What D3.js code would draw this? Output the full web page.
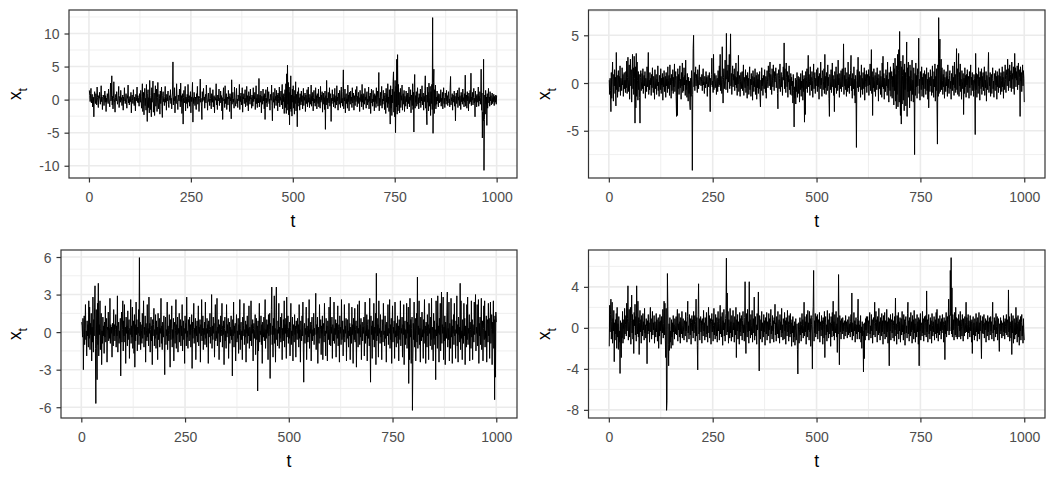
<!DOCTYPE html>
<html><head><meta charset="utf-8">
<script src="https://cdn.jsdelivr.net/npm/d3@7/dist/d3.min.js"></script>
<style>html,body{margin:0;padding:0;background:#fff;}svg{display:block;}</style>
</head><body>
<svg id="chart" width="1056" height="480"></svg>
<script>
const xTicks = [0, 250, 500, 750, 1000];
const yTicks1 = [-10, -5, 0, 5, 10];
const yTicks2 = [-5, 0, 5];
const yTicks3 = [-6, -3, 0, 3, 6];
const yTicks4 = [-8, -4, 0, 4];
const xTitle = "t";
const yTitleMain = "x";
const yTitleSub = "t";

const series1 = [
1.4,0.6,-0.3,0.9,1.7,-0.5,0.2,0.8,-1.1,0.4,0.3,-2.6,0.5,1.2,-0.2,-0.6,0.9,0.1,-0.8,1.9,
0.3,-0.4,-1.2,0.6,0.2,1.1,-0.1,-0.7,0.5,2.1,-0.3,0.4,-1.5,-0.2,0.7,0.3,-0.9,0.1,1.3,-0.4,
0.6,-1.8,0.2,-0.3,0.9,0.4,-0.6,1.6,0.1,-0.4,-1.1,0.7,2.5,-0.2,0.3,3.6,-0.8,0.5,-1.4,0.2,
2.7,0.4,-0.5,-1.9,0.3,0.8,-0.2,1.2,0.1,-0.7,-0.3,0.6,2.0,-1.2,0.2,0.5,-0.4,1.4,-0.1,0.3,
-0.9,0.2,0.7,-1.6,0.4,-0.2,1.8,0.3,-0.6,0.1,0.9,-0.4,-1.3,0.6,0.2,2.2,-0.5,0.1,-0.8,0.4,
0.5,-0.3,1.1,-2.0,0.2,0.7,-0.1,-0.6,1.5,0.3,-0.9,0.4,0.1,-1.7,0.8,-0.2,0.3,1.9,-0.4,0.6,
-0.5,0.2,-1.0,0.9,0.3,-0.4,1.4,-0.2,-1.3,0.5,2.4,-1.8,-0.6,1.1,-2.3,0.4,1.7,-0.9,0.2,-1.6,
2.3,-0.7,-3.3,0.9,1.5,-1.2,0.3,-2.0,2.9,0.6,-1.5,0.2,-2.6,1.8,-0.4,0.7,2.8,-1.9,-0.3,1.0,
-2.4,0.5,2.1,-1.0,-0.2,1.6,-1.8,0.3,2.6,-0.5,-1.4,0.8,0.2,-2.2,1.3,-0.6,0.4,1.9,-1.1,-2.7,
0.6,1.2,-0.3,0.1,-0.9,0.5,2.0,-0.4,0.2,-1.6,0.8,-0.2,0.4,1.3,-0.7,-1.2,0.3,0.6,-0.1,1.5,
-0.6,0.2,-1.4,0.4,1.0,5.7,-0.8,0.3,-0.2,1.8,-2.0,0.5,0.1,-0.6,2.4,0.2,-0.4,-1.5,0.7,0.3,
-0.2,1.6,0.4,-1.1,2.5,-0.3,0.6,-2.1,0.2,0.9,-3.7,0.3,1.4,-0.5,-0.1,2.0,-1.7,0.4,0.1,-0.6,
0.8,-1.3,2.3,0.2,-0.4,0.6,-1.0,0.1,1.2,-2.0,0.4,-0.3,0.7,2.6,-3.4,0.3,-0.6,1.1,0.2,-0.9,
0.4,-0.2,-1.5,0.9,0.3,2.0,-0.7,0.1,0.5,-1.8,0.2,0.6,3.1,-0.4,0.2,-1.1,-3.0,1.2,-0.3,0.5,
1.7,-0.1,0.4,-1.3,0.2,0.8,-0.5,2.2,0.3,-0.2,-1.6,0.5,1.0,-0.3,0.1,-0.9,1.8,0.2,-0.6,-1.4,
0.9,0.3,-0.4,1.5,-1.1,0.2,0.6,-2.0,0.4,-0.1,0.3,2.4,-0.8,0.1,-1.5,0.7,-0.2,0.4,1.6,-0.9,
0.2,-0.5,1.3,0.1,0.6,-1.7,0.3,-3.0,0.5,1.8,-0.2,0.1,-1.2,2.1,-0.6,0.3,0.9,-1.5,0.2,0.4,
-0.8,1.4,0.1,0.5,-1.8,0.9,-0.2,0.3,-2.9,3.0,-0.7,0.2,1.1,-0.4,0.1,-1.3,1.9,0.3,-0.5,-1.0,
0.4,1.7,-0.6,0.1,-1.2,0.7,0.3,-0.2,2.3,-1.5,0.5,-0.3,1.0,-0.8,0.2,1.8,-1.9,0.4,0.1,0.9,
-0.6,0.3,1.5,-1.1,0.2,-0.4,2.0,-0.9,0.6,0.1,-1.7,1.2,-0.2,0.5,-0.7,1.6,0.1,0.3,-1.3,0.7,
0.2,-1.0,1.8,-0.3,0.5,0.1,1.1,-1.5,0.4,2.1,-0.6,0.2,-1.2,0.8,0.0,-0.5,3.2,-1.1,0.3,0.7,
-0.4,1.3,-2.0,0.5,0.1,-0.7,1.6,-0.2,0.6,-1.4,0.9,-3.0,0.3,1.5,-0.5,0.2,-1.1,1.9,-0.3,0.4,
1.2,-0.6,0.1,-1.6,0.8,0.3,-0.1,2.2,-0.9,-3.2,0.6,1.1,-0.4,0.1,-1.3,1.7,-0.1,0.5,-0.9,1.4,
-0.2,0.7,-1.7,1.0,0.2,-0.5,1.9,-1.1,0.4,-0.1,1.3,-0.8,0.3,2.3,-1.4,0.6,-0.3,0.9,-2.1,0.5,
1.5,-1.2,2.4,-2.1,3.9,-1.6,5.2,-0.7,2.6,-2.3,1.1,-3.8,1.9,-1.4,3.6,-1.8,0.7,-2.5,1.6,-0.4,
2.1,-1.3,0.5,-2.2,1.4,-0.6,2.7,-1.7,0.8,-0.1,-4.1,1.2,-0.5,1.8,-1.0,0.3,-1.6,0.9,0.1,-0.8,
1.3,-0.3,0.6,-1.4,0.2,1.7,-0.9,0.4,-0.1,1.0,-1.8,0.7,0.1,-0.6,1.5,-1.1,0.3,1.9,-0.4,0.3,
-1.2,0.8,0.1,-0.7,2.2,-1.0,0.5,-0.2,1.1,-1.7,0.3,1.4,-0.5,0.1,-1.0,1.8,-0.3,0.6,-1.4,0.9,
0.2,-0.6,1.6,-1.1,0.4,0.1,-1.3,2.0,-0.4,0.7,-0.1,1.2,-1.9,0.5,1.0,-0.7,0.3,-1.5,1.3,-4.5,
0.6,-0.8,2.9,-0.3,0.2,-1.4,1.1,0.1,-0.5,1.8,-1.0,0.4,0.9,-3.3,0.2,-0.6,1.5,-0.2,0.3,-1.1,
0.8,-0.4,1.7,-1.3,0.1,0.6,-0.8,2.1,-0.2,0.4,-1.6,1.0,0.3,-0.7,1.4,-0.1,-1.2,0.7,1.9,-0.5,
0.2,-1.0,1.2,4.5,-1.4,0.3,-0.2,1.6,-2.0,0.5,0.9,-0.6,0.1,-1.3,2.2,-0.3,0.7,-1.7,1.1,0.1,
-0.7,1.3,-0.2,0.4,-1.2,1.8,-0.5,0.2,1.0,-1.6,0.6,-0.1,-0.9,1.5,-0.3,0.3,2.0,-1.1,0.5,-0.4,
1.1,-0.6,0.3,-1.8,1.4,0.1,-0.3,0.8,-1.1,2.3,-0.4,0.6,-1.5,0.9,0.2,-0.7,1.7,-0.1,0.4,-1.3,
0.7,1.2,-0.8,0.1,-0.4,1.9,-1.4,0.5,-0.2,1.0,-2.1,0.3,1.6,-0.5,0.1,-1.0,1.4,-0.3,0.7,-1.7,
0.9,-0.3,0.6,-1.2,1.8,-0.6,0.3,1.3,-1.0,0.4,4.1,-1.7,0.2,-0.4,1.1,-0.9,0.5,2.0,-1.3,0.1,
-0.7,1.4,-0.2,0.6,-1.5,1.0,0.3,-2.1,1.7,-0.4,0.8,-1.2,2.4,-0.6,0.4,-1.8,1.5,-0.9,-3.7,2.1,
-1.3,0.7,-2.4,1.6,-0.5,2.7,4.2,-1.9,1.2,-2.6,2.9,-5.0,2.0,-1.1,6.1,-2.2,6.8,-1.7,2.3,-0.8,
1.1,-2.0,0.4,1.7,-1.2,0.6,-0.1,2.2,-1.6,0.3,0.9,-0.7,1.4,-1.8,0.5,0.1,-1.0,1.3,-0.3,0.7,
-1.4,1.0,0.2,-0.6,1.9,-1.1,0.4,-0.1,1.5,-2.0,0.7,0.3,-0.9,2.4,-1.5,1.1,-4.9,1.8,3.8,-1.3,
0.6,-0.4,1.2,-1.0,0.2,1.8,-0.7,0.3,-1.4,0.9,0.1,-0.5,1.6,-1.2,0.4,-0.2,2.1,-0.8,0.3,1.0,
-1.6,0.5,-0.3,1.4,3.6,-1.3,0.7,-2.2,-3.8,1.9,-0.4,1.1,-1.7,2.5,-1.0,0.3,2.0,-2.4,1.2,-0.6,
2.3,-1.5,12.4,-5.1,2.6,4.6,-2.1,1.5,-0.9,2.2,-1.4,0.4,-0.7,1.3,-0.2,0.6,-1.1,0.9,0.1,-0.5,
0.8,-0.3,1.5,-1.0,0.2,-0.1,1.1,-1.4,0.5,1.8,-0.6,0.2,-1.2,1.0,0.3,-0.7,1.4,-0.2,0.6,-0.9,
0.4,1.2,-0.5,0.1,-1.1,1.9,3.5,-0.8,0.3,-0.2,0.9,-1.6,0.7,0.2,-0.4,1.3,-1.0,0.5,-3.2,0.2,
1.0,-0.6,0.2,1.4,-1.2,0.4,-0.1,1.8,-0.9,0.6,0.1,-1.5,1.1,-0.3,0.7,-0.7,1.6,-0.2,0.3,-1.1,
0.9,-0.4,3.7,-1.0,0.3,0.7,-1.3,1.2,-0.2,0.5,-1.7,1.0,0.1,-0.6,1.4,-0.3,4.0,-0.9,0.4,-0.1,
1.1,-0.8,0.3,1.7,-0.5,0.2,-2.6,1.3,-0.3,0.6,-1.1,0.8,0.1,-0.4,1.9,-1.0,0.5,-0.2,1.2,-0.7,
0.3,4.6,-1.6,1.0,-5.8,-1.9,-3.2,6.1,-10.7,-3.0,0.7,-2.2,1.4,-0.6,0.4,-3.9,0.9,-1.3,0.2,1.7,
-0.5,0.4,-1.0,1.2,-0.2,0.6,-0.8,0.1,1.0,-0.6,0.3,-0.3,0.8,-0.9,0.5,0.1,-0.4,0.7,-0.7,0.6
];

const series2 = [
0.3,-1.2,0.5,-0.8,-3.0,1.1,-1.6,0.4,2.2,-0.5,-1.9,0.9,-0.3,1.4,-1.1,0.6,-2.4,3.2,-0.7,0.8,
-1.5,0.2,1.3,-0.9,0.7,-0.4,1.8,-1.3,0.5,0.1,-0.8,1.6,-0.2,0.9,-1.4,0.4,1.1,-0.6,0.3,-1.0,
1.2,-0.5,2.3,-1.1,0.6,2.7,-0.9,0.4,1.9,-1.7,0.8,2.5,-0.3,1.4,-2.0,0.7,3.0,-0.6,1.6,-1.2,
2.8,0.5,-4.2,1.7,-2.6,3.1,-1.4,2.2,0.3,-1.8,1.2,-0.7,0.9,-1.5,-4.2,0.6,1.3,-0.8,0.2,1.0,
-0.6,1.5,-1.1,0.4,0.8,-0.3,1.2,-1.6,0.5,0.1,-0.9,1.7,-0.4,0.6,3.2,-1.2,0.3,-0.7,1.1,-0.2,
0.5,-1.3,0.9,-0.5,1.6,-0.1,-1.0,0.7,0.2,-1.7,1.4,-0.6,0.3,0.9,-1.2,0.4,-0.3,1.8,-0.8,0.1,
-1.4,0.8,0.3,-0.7,1.5,-1.1,0.5,-0.2,1.0,-1.8,0.6,-0.4,1.3,-0.9,0.2,0.7,-1.5,1.1,-0.3,0.4,
-1.0,1.7,-0.6,0.3,0.8,-1.3,1.9,-0.2,0.5,-1.6,0.9,-0.8,0.2,1.4,-1.1,0.6,-0.4,2.0,-0.9,0.3,
1.2,-1.4,-3.5,0.7,-3.4,1.5,-0.6,0.9,-1.2,0.2,1.8,-0.5,0.4,-1.7,1.1,-0.3,2.1,-1.0,0.6,-0.8,
1.6,-0.2,0.8,-1.3,2.4,-0.7,0.3,-1.5,1.0,-0.4,-1.9,0.6,-1.1,0.2,-2.2,-2.8,0.5,-1.4,1.3,-0.6,
-9.15,-1.2,3.6,5.0,-0.4,1.1,-0.8,0.5,1.7,-0.3,0.9,0.2,-1.0,1.4,0.4,-0.6,0.8,1.9,-0.2,0.6,
0.6,-0.3,0.2,0.9,-0.8,0.4,1.5,-0.2,0.1,-1.1,0.7,0.3,-0.5,1.2,-0.1,0.6,-1.4,0.2,0.8,-0.4,
0.3,1.1,-0.6,-3.0,0.5,-0.2,0.9,2.6,-0.4,0.2,-1.0,3.0,-0.7,0.4,1.0,-0.5,-0.1,0.8,-1.2,0.3,
0.5,-0.9,1.3,0.2,-0.4,1.8,-0.2,3.0,-0.8,0.7,0.1,-1.1,3.8,0.4,-2.1,0.6,1.5,-0.6,0.3,2.4,
0.2,-0.7,5.2,0.4,1.3,-1.0,1.9,0.1,0.8,3.0,-0.6,1.6,5.15,-0.3,1.0,-1.2,0.6,1.8,-0.4,0.9,
0.3,1.5,-0.8,0.7,-0.2,2.1,-0.5,0.6,-1.3,1.2,-0.1,2.9,-0.9,0.4,0.8,-1.4,0.2,1.1,-0.6,0.3,
1.2,-0.8,0.3,1.9,-1.3,0.6,0.1,-0.5,1.4,-1.0,0.8,0.2,-1.6,1.1,-0.3,0.5,-1.2,0.9,1.7,-0.7,
0.4,-1.4,1.0,-0.2,0.7,-1.8,1.3,0.3,-0.9,0.6,-0.4,1.5,-1.2,0.2,0.8,-1.7,1.1,-0.5,0.4,-1.1,
0.9,-0.6,1.2,-1.5,-2.5,0.3,-0.8,1.6,-0.3,0.5,-1.3,0.8,0.1,-0.6,1.4,-0.2,-1.0,0.7,-1.6,0.4,
1.3,0.2,-0.5,1.8,0.6,-0.3,1.1,2.2,-0.7,0.9,0.4,-1.2,1.5,0.3,-0.4,1.9,0.5,-0.8,1.2,0.1,
0.7,1.6,-0.5,0.3,1.0,-1.1,-2.7,0.8,1.4,-0.6,0.5,2.0,-0.9,0.2,1.1,-0.4,0.6,-1.3,0.9,1.7,
0.3,4.2,-0.6,1.5,0.2,-1.0,2.1,0.6,-0.4,1.2,-1.5,0.8,0.1,1.8,-0.7,0.4,-1.2,1.0,-0.3,0.6,
-1.3,0.2,-2.1,0.9,-0.8,-4.6,-0.4,-1.6,0.5,-2.2,0.3,-0.9,1.1,-1.5,-0.2,0.7,-1.1,0.4,-2.0,0.6,
-0.7,1.0,-1.4,0.2,-0.5,1.3,-1.8,0.4,-0.9,0.8,-4.1,0.5,-3.3,1.2,-0.6,0.3,1.5,-1.0,0.7,2.9,
-0.4,0.9,0.2,-1.3,1.7,-0.2,0.6,-0.8,1.2,0.3,-1.5,0.8,2.0,-0.6,0.4,1.1,-1.1,0.5,-0.3,1.4,
0.1,-0.9,1.6,-0.4,0.7,-1.7,1.0,0.3,-0.6,2.2,-0.2,0.5,-1.4,1.3,0.8,-0.7,0.2,1.5,-1.1,3.0,
-0.5,0.7,-1.2,1.1,0.3,-0.8,1.9,-0.3,0.6,-1.6,-3.5,0.9,0.2,-0.7,1.4,-1.0,0.5,2.1,-0.4,0.8,
-1.3,0.4,-3.0,1.2,0.6,-0.5,1.7,-1.1,0.3,0.9,-0.8,2.4,-0.2,0.5,-1.5,1.0,0.2,-0.6,1.3,-0.9,
0.7,1.5,-0.4,0.2,4.1,-1.2,0.8,-0.3,1.6,-0.7,0.4,-1.4,1.1,0.3,-0.9,2.2,-0.5,0.6,-1.1,0.9,
-0.3,1.3,2.9,-0.8,0.5,-1.6,1.0,0.2,-0.6,1.7,-1.3,0.4,-2.1,0.8,-1.0,-6.75,0.3,1.4,-0.5,2.7,
-0.9,0.6,1.2,-0.4,0.8,-1.5,0.3,1.9,-0.7,0.5,-1.2,1.1,0.0,-0.6,1.6,-1.8,0.9,0.2,-0.4,1.3,
-1.0,0.5,0.9,-0.3,1.4,-1.3,0.7,-0.2,2.0,-0.8,0.4,3.5,-1.1,1.2,-3.4,0.6,-0.5,1.5,-0.9,0.3,
0.8,-1.4,1.1,0.4,-0.7,1.6,-0.2,0.5,-1.9,0.9,0.3,-0.6,1.3,-1.2,0.7,0.1,-1.5,2.1,-0.4,2.8,
-0.6,1.0,-1.7,0.5,0.2,-0.9,1.4,-0.3,0.8,-1.3,2.2,-0.5,0.4,-2.0,1.1,0.6,-0.8,1.7,-1.4,0.3,
1.2,-1.6,0.7,-0.4,2.1,-2.3,1.5,-0.8,2.6,-1.9,0.9,-2.7,1.8,-1.2,3.0,-2.5,1.3,3.5,-2.0,5.4,
-1.6,-3.4,2.3,-4.3,1.7,-2.2,0.8,2.9,-1.8,1.4,-2.9,2.0,-0.7,1.1,-2.4,0.6,4.3,-3.5,1.6,-0.9,
2.2,-1.5,0.7,-2.6,1.9,-0.8,1.3,-1.9,0.5,2.4,-1.2,0.3,-2.0,1.6,-0.6,-7.5,1.0,-1.3,2.1,-0.4,
0.8,-1.6,1.5,-0.3,0.9,4.7,-1.1,0.4,-1.8,1.2,0.2,-0.7,1.7,-1.4,0.6,-0.2,1.0,-1.5,0.5,1.3,
-0.6,0.9,-1.2,0.3,1.6,-0.8,0.4,-1.7,1.1,-2.6,0.6,0.1,-0.9,1.4,-0.3,0.7,-1.3,0.5,1.8,-1.0,
0.4,-1.5,1.2,-0.4,2.0,-1.9,0.7,-0.8,1.5,-2.2,-6.4,1.9,-1.4,6.85,-1.1,2.6,4.6,-0.9,1.3,2.5,
-0.7,1.6,0.3,-1.2,0.9,-0.4,1.4,-1.6,0.6,0.2,-0.9,1.2,-0.3,0.7,-1.4,1.9,-0.5,0.4,-1.1,0.8,
1.3,-0.6,0.2,-1.7,1.0,0.5,-0.8,1.8,-0.2,0.6,-1.3,2.2,-0.5,0.9,-1.0,0.3,3.6,-0.7,1.5,-1.2,
0.6,3.1,-1.4,1.1,-0.3,2.0,-0.9,0.4,-1.7,1.3,0.2,-0.6,1.0,-3.3,0.5,-1.1,1.6,-0.4,0.8,-1.5,
0.9,-0.2,1.4,-1.0,0.3,0.7,-1.6,1.2,-0.5,0.4,1.9,-1.3,0.6,-0.2,1.1,-0.8,0.3,-1.4,0.9,0.5,
-0.9,-5.4,3.1,-0.7,1.0,-1.5,0.4,0.9,-1.1,1.6,-0.3,0.6,-1.8,1.2,0.2,-0.6,1.5,-1.2,0.7,-0.4,
1.1,-0.8,0.5,1.7,-1.3,0.3,-0.5,1.2,-1.9,0.8,0.2,-0.7,1.4,3.2,-1.0,0.6,-0.3,1.1,-1.4,0.4,
0.9,-1.1,0.5,1.6,-0.6,0.2,-1.5,1.0,0.4,-0.8,1.3,-0.2,0.7,-1.7,1.2,-0.4,0.8,-1.0,0.3,1.5,
-0.5,0.7,-1.2,1.1,0.3,-0.9,1.7,-0.4,0.6,-1.6,1.2,0.2,-0.7,1.9,0.4,-1.0,0.8,1.4,-0.3,2.5,
0.6,-0.8,1.5,0.2,1.9,-0.5,0.9,1.3,-0.9,2.2,0.4,1.0,-0.6,1.7,0.3,-1.2,3.1,0.5,1.6,-0.4,
1.2,0.3,1.8,-0.7,0.9,2.1,-0.2,1.4,0.6,-3.5,1.7,0.2,1.1,-0.9,0.8,1.9,-0.3,1.3,0.5,-2.0
];

const series3 = [
0.8,0.5,-0.4,1.1,-3.0,-0.2,1.3,-1.0,0.3,2.2,-0.6,0.1,-1.9,0.9,-0.3,0.6,-1.2,2.5,-0.5,2.0,
-1.4,0.7,-0.2,1.5,-2.3,0.4,-0.8,2.8,-1.6,1.0,-0.3,2.0,3.7,-1.3,-5.7,1.8,-0.6,-3.8,2.3,-1.0,
3.9,-1.9,0.6,-0.2,2.5,-1.4,0.3,1.5,-2.6,0.1,-0.9,1.2,-0.3,0.5,-1.7,0.8,-0.4,2.1,-0.8,0.2,
1.1,-2.4,0.4,0.2,1.6,-0.7,0.3,-0.5,2.7,-0.9,0.6,-0.1,0.4,-2.0,0.7,0.1,-1.1,1.8,-0.3,0.6,
-0.7,0.2,1.4,-1.2,0.5,-0.3,2.9,-1.6,0.2,0.8,-0.9,0.1,-0.5,1.1,-3.5,0.4,1.6,-0.8,0.2,2.5,
-1.5,0.9,-0.3,2.2,-0.8,0.4,-2.5,1.2,-0.1,0.5,-1.1,1.7,-0.6,0.2,1.0,-2.1,0.3,-0.2,2.6,-0.9,
0.5,-0.4,2.0,-1.3,0.2,0.9,-1.7,1.4,-2.8,0.6,-0.7,2.4,-0.2,1.0,-1.5,0.4,-0.1,1.8,-1.0,5.95,
-0.3,0.8,-1.4,0.6,0.1,-0.9,1.5,-0.5,0.2,2.5,-1.2,0.4,-0.2,1.3,-2.4,0.7,0.1,-0.7,2.2,-0.4,
0.3,-1.1,2.8,-0.1,0.7,-1.6,0.2,1.2,-0.7,0.5,-2.6,1.0,-0.3,0.6,1.9,-1.1,0.2,-0.5,1.4,-1.3,
0.9,-0.2,0.4,-2.2,1.5,-0.6,0.1,1.1,-1.2,0.3,-0.1,2.7,-0.9,0.5,-1.4,0.8,0.2,-0.4,1.3,-0.8,
-3.4,0.6,1.2,-1.0,0.2,-0.3,2.4,-1.4,0.5,0.1,-0.7,1.4,-0.2,-2.8,1.0,-0.6,0.3,2.1,-1.2,0.2,
-0.5,1.1,-2.3,0.4,0.8,-0.9,0.1,2.6,-1.3,0.6,-0.2,1.2,-1.6,0.3,-0.1,1.5,-0.8,0.2,1.0,-1.1,
0.5,-0.3,2.2,-1.5,0.1,0.9,-0.6,0.3,-2.5,1.3,-0.1,0.7,-1.1,2.8,-0.4,0.1,-1.3,1.0,0.4,-0.7,
1.2,-0.2,0.6,-1.2,0.1,1.4,-2.9,0.8,-0.5,0.2,2.3,-0.9,0.3,-0.1,1.1,-2.2,0.5,-0.3,0.9,-0.8,
0.2,2.1,-1.1,0.4,-0.1,1.0,-2.4,0.6,-0.3,2.6,-0.7,0.1,1.3,-1.4,0.3,-0.2,0.8,-1.0,2.4,-0.5,
0.3,-1.2,1.1,-0.1,0.6,-2.5,0.9,-0.4,0.2,1.5,-0.9,0.4,-0.3,3.0,-1.3,0.5,-0.6,1.2,-0.1,0.7,
-2.0,0.3,2.2,-0.7,0.1,-0.5,2.7,-1.1,0.4,-0.1,1.0,-2.2,0.6,0.1,-0.8,1.3,-0.3,0.2,2.3,-1.2,
0.5,-0.2,0.9,-2.6,0.3,1.2,-0.7,0.1,-1.3,2.2,-0.4,0.6,-0.1,1.1,-2.1,0.2,0.8,-0.9,0.4,-0.3,
1.3,-0.6,0.2,-3.5,1.0,-0.3,2.4,-1.2,0.5,-0.1,0.7,-2.3,0.2,1.4,-0.8,0.1,-0.5,1.1,-1.7,0.6,
-0.2,2.6,-1.4,0.3,0.8,-0.6,0.1,-2.2,1.2,-0.3,0.5,2.3,-1.0,0.2,-0.4,0.9,-2.4,0.6,-0.1,1.3,
-0.9,0.3,-0.3,2.1,-1.3,0.4,0.1,-0.7,2.5,-1.1,0.6,-0.1,1.0,-2.3,0.3,0.7,-0.5,0.2,1.4,-1.8,
0.2,1.1,-0.6,0.5,-4.7,0.9,-1.5,0.3,2.3,-0.8,0.1,-0.2,1.3,-1.0,0.6,-2.5,0.8,0.1,-0.4,1.2,
-0.7,0.4,2.6,-1.3,0.2,-0.5,1.0,-0.1,0.6,-2.2,1.4,-0.3,0.2,1.5,-3.7,0.7,-0.2,1.8,3.6,-1.0,
0.5,-2.0,1.1,-0.2,2.9,-0.9,0.3,-2.4,1.6,3.6,-0.6,0.2,-1.1,0.9,-0.1,2.3,-1.3,0.4,-0.5,1.2,
-0.8,0.1,1.5,-2.2,0.3,-0.2,1.0,-0.7,2.5,-1.2,0.6,-0.1,1.1,-2.1,2.8,-0.4,0.2,1.3,-0.9,0.3,
-0.5,0.8,-1.9,0.4,2.3,-1.0,0.1,-0.3,1.2,-2.3,0.6,0.1,-0.8,1.4,-0.2,0.5,-2.0,0.9,0.2,-0.6,
1.1,-0.1,0.6,-1.2,2.2,-0.5,0.2,-2.4,0.9,0.1,-0.7,1.3,-0.3,2.4,-1.1,-4.0,0.4,0.7,-0.9,0.3,
-0.2,2.0,-2.2,0.5,0.1,-0.8,1.1,-0.4,2.6,-1.3,0.2,-0.1,0.8,-2.3,0.6,1.2,-0.7,0.2,-0.3,1.5,
-1.0,0.3,-0.2,0.9,3.1,-1.4,0.6,-0.1,1.2,-2.5,0.4,0.1,-0.9,2.2,-0.5,0.2,1.0,-1.8,0.5,-0.1,
1.3,-2.2,0.2,0.7,-0.8,2.3,-0.3,0.1,-1.9,1.1,-0.1,0.5,-2.3,0.9,0.2,-0.6,2.0,-1.0,0.3,2.8,
-1.1,0.4,-0.1,1.2,-2.1,0.6,0.1,-0.7,2.4,-0.9,0.3,-0.2,1.0,-2.0,0.7,0.1,-0.5,2.1,-1.1,0.2,
0.6,-2.4,1.3,-0.1,0.4,-1.0,2.6,-0.6,0.1,0.9,-1.9,0.2,-0.4,2.2,-0.8,0.5,-0.1,1.1,-2.3,0.3,
1.0,-0.5,0.1,-1.2,2.3,-0.3,0.7,-2.2,0.4,0.1,-0.9,2.0,-0.2,0.6,-2.5,1.1,0.1,-0.6,1.9,-0.8,
0.2,0.9,-2.8,0.5,-0.1,2.2,-1.2,0.3,-0.1,2.5,-1.0,0.6,-0.4,1.1,-2.2,0.1,0.8,-0.7,0.4,-0.1,
1.2,-1.9,0.5,2.4,-0.9,0.1,-0.3,1.4,-2.3,0.6,1.0,-0.5,0.2,-1.1,2.7,-0.8,-4.0,1.3,-0.2,0.5,
-2.1,0.9,0.1,-0.6,2.3,-1.2,0.4,-0.1,1.5,-2.6,4.7,-0.7,1.1,-0.3,0.6,-2.0,2.5,-0.1,0.3,-0.9,
1.4,-0.4,0.1,-2.2,1.0,0.5,-0.8,2.3,-0.2,0.1,-1.1,1.3,-0.5,0.6,-2.4,0.8,0.1,-0.3,2.2,-1.0,
0.3,-0.1,2.6,-1.3,0.6,-0.6,1.1,-2.5,0.2,2.1,-0.8,0.4,-0.1,0.9,-2.1,2.4,-0.4,0.1,-1.2,0.7,
-0.3,1.3,-0.9,0.5,-2.3,1.0,0.1,-0.6,2.5,-1.1,0.3,-0.1,1.2,-2.0,0.6,-0.2,2.2,-2.6,0.4,0.9,
-1.0,0.2,-0.5,2.3,-1.3,0.8,-0.1,2.0,-4.1,0.6,-2.2,2.7,-0.4,1.0,-2.5,0.3,1.2,-6.25,-2.1,0.7,
-0.6,2.4,-1.2,0.4,1.1,-2.3,0.1,1.5,-0.8,4.4,-1.3,0.5,-0.2,2.5,-1.0,0.3,-2.4,1.2,0.1,-0.7,
1.6,-0.4,0.2,-2.1,1.0,-0.1,2.6,-0.9,0.5,-2.5,0.8,0.1,-1.2,1.4,-0.3,0.6,-2.2,2.3,-0.1,0.3,
-1.1,1.2,-0.6,2.7,-1.4,0.4,0.1,-2.3,1.5,-0.5,0.9,-1.0,0.2,-3.8,2.5,-0.3,0.7,-1.3,2.9,-0.1,
0.5,-2.4,1.1,-0.2,2.3,-1.5,0.3,3.2,-0.9,0.6,-0.1,2.8,-2.2,0.4,-0.7,1.3,-2.6,0.8,0.1,-0.5,
1.6,3.2,-1.2,0.3,-0.6,2.4,-2.3,0.7,0.1,-1.3,2.7,-0.4,1.0,-2.5,0.5,-0.1,1.4,-1.0,2.3,-0.3,
0.2,-2.1,0.9,-0.1,2.9,-1.1,0.6,-2.4,1.2,-0.2,0.4,-0.8,3.9,-1.4,2.5,-0.5,0.1,-2.2,1.0,0.3,
-0.9,2.3,-0.3,1.1,-2.6,0.5,0.1,-1.2,2.2,-0.6,2.8,-1.0,0.3,-0.1,1.4,-2.3,0.8,0.2,-1.3,2.5,
-0.4,1.0,-2.2,0.6,0.1,-0.8,2.4,-0.2,1.3,3.0,-1.5,0.4,-0.1,2.2,-1.1,0.2,2.6,-2.5,0.7,-0.3,
1.2,-1.0,0.5,2.7,-1.4,0.1,0.9,-2.3,0.3,2.1,-0.6,2.5,-1.2,0.1,-0.5,1.3,-2.4,0.6,1.0,-0.8,
2.3,-0.3,1.1,-2.1,0.4,2.4,-0.9,0.2,1.4,-2.6,0.8,-0.1,2.5,-1.3,1.0,-5.4,1.3,-3.6,1.6,0.8
];

const series4 = [
-1.8,2.2,-0.4,1.3,2.8,-1.1,0.6,2.5,-1.5,0.9,-0.3,1.7,-3.3,0.5,-1.2,0.8,-0.6,1.4,-2.0,2.0,
-0.9,0.4,-2.1,1.1,-1.4,-0.3,-4.45,0.7,-1.8,-2.9,0.5,-1.0,1.6,-1.5,-0.2,0.8,-1.1,1.9,-0.6,0.3,
1.2,-0.8,2.4,-0.3,0.9,4.1,-1.2,0.6,1.8,-0.9,0.4,2.0,-1.6,0.7,3.2,-0.5,1.3,-1.1,0.8,-2.5,
1.5,0.2,2.3,-0.7,1.1,-1.3,4.1,0.4,-0.6,2.6,-0.9,1.0,-2.6,0.5,1.7,-0.4,0.8,-1.5,1.2,0.3,
-0.8,1.4,-0.2,0.6,-1.2,1.9,-0.5,0.3,-1.0,0.9,0.1,-3.5,0.7,-0.6,1.3,-0.3,0.5,-1.4,0.8,2.0,
-0.4,0.9,-1.1,0.3,1.6,-0.7,0.5,-0.2,1.2,-1.5,0.6,0.0,-0.9,1.4,-0.4,0.8,-1.3,0.4,1.0,-2.0,
0.6,-0.8,1.3,-0.3,0.7,-1.6,1.1,0.2,-0.5,1.8,-1.0,0.4,2.6,-0.7,2.4,-1.2,-2.9,1.9,-8.05,-7.1,
5.3,2.1,-1.6,-3.7,0.4,-2.2,1.0,-1.4,-0.3,-2.0,0.8,-0.9,0.5,-1.7,1.2,-0.4,0.3,-1.1,0.9,-0.6,
0.2,1.1,-0.7,0.5,1.8,-1.3,0.4,-0.2,1.4,-0.9,0.6,-1.5,1.0,0.3,-0.6,1.6,-1.0,0.2,0.9,-0.4,
-1.2,0.7,0.3,-0.8,1.5,-0.3,0.6,-1.4,1.1,2.6,-0.5,0.2,-1.1,1.3,0.4,-0.7,0.9,-1.6,0.5,1.2,
-0.3,0.8,-1.0,1.6,-0.5,0.3,1.2,-1.3,0.6,2.8,-0.8,1.0,-1.7,-4.1,1.3,4.3,-0.6,0.9,-1.2,0.4,
1.1,-0.4,0.7,-1.5,0.9,0.2,-0.8,1.7,-0.3,0.5,-1.2,1.0,0.4,-0.9,1.5,-0.6,0.2,-1.4,0.8,2.0,
-0.5,1.2,-1.0,0.3,0.9,-1.6,0.6,1.4,-0.4,0.8,-1.3,0.2,1.9,-0.7,0.5,-1.1,1.3,0.1,-0.8,1.0,
-1.4,0.6,1.6,-0.3,0.9,-1.2,0.4,2.2,-0.6,1.1,-0.9,0.3,1.5,-1.7,0.7,-0.2,1.8,-0.8,0.5,-1.3,
0.9,1.4,6.8,-0.7,3.4,-0.4,1.6,-1.5,0.8,0.2,-1.0,1.9,-0.5,0.6,-1.3,1.2,0.3,-0.9,1.7,-0.2,
0.5,-1.4,1.1,0.3,-0.7,2.0,-2.9,0.8,-0.3,1.3,-1.1,0.6,0.2,-1.6,1.5,-0.4,0.9,-0.8,1.2,0.1,
-1.2,0.7,1.6,-0.5,0.3,-1.3,1.0,4.5,-0.6,-2.5,1.4,0.2,-0.9,1.8,-0.4,0.6,-1.5,4.5,-0.3,0.8,
-1.0,1.3,0.2,-0.7,1.7,-1.4,0.5,0.9,-0.5,3.0,-1.2,0.4,1.1,-0.8,0.3,-1.6,1.4,-0.2,0.7,3.5,
-0.6,-4.2,1.2,0.4,-1.1,0.8,-0.3,1.6,-1.4,0.5,0.1,-0.9,1.3,-0.4,0.7,-1.7,1.0,0.2,-0.6,1.5,
-1.2,0.6,0.3,-0.8,1.4,-0.2,0.9,-1.5,0.5,1.8,-0.6,0.2,-1.1,1.2,-0.3,0.7,-1.4,1.0,0.4,2.3,
-0.7,0.5,-1.3,1.1,0.2,-0.6,1.6,-1.0,0.4,0.8,-1.5,1.3,-0.2,0.6,-0.9,1.9,-0.5,0.3,-1.2,0.9,
0.4,-1.1,1.5,-0.3,0.7,-1.6,1.0,0.2,-0.8,1.7,-0.4,0.6,-1.3,1.2,0.3,-0.9,1.4,-0.6,0.5,-1.8,
0.8,-0.5,1.1,-1.4,0.2,-0.9,0.6,-1.7,-0.3,0.9,-1.2,-0.6,0.4,-2.1,-4.5,-0.8,0.5,-1.5,-0.2,1.0,
-0.7,0.6,-1.3,0.3,1.4,-0.5,0.8,-1.0,0.2,2.5,-0.8,1.1,-0.4,0.6,-1.6,1.3,0.3,-0.9,1.7,-0.2,
0.5,-1.2,1.6,-0.4,0.9,-1.8,1.2,0.3,-0.6,-4.0,1.0,2.1,5.6,-1.3,0.7,-0.5,1.4,-0.9,0.4,1.1,
-0.6,1.3,-1.1,0.4,0.8,-0.3,1.5,-1.4,0.6,0.1,-0.8,1.2,-0.2,0.7,-1.6,1.0,0.3,-1.0,1.6,-2.9,
0.5,1.1,-0.7,0.3,-1.3,1.7,-0.4,0.8,-1.0,0.2,1.4,-0.6,0.5,-1.8,1.1,0.4,-0.9,1.5,-0.3,2.6,
-0.8,0.6,-1.2,1.3,0.2,-0.5,1.6,-0.9,0.4,-2.4,1.0,-0.6,5.2,0.3,-3.6,1.2,-0.4,0.7,-1.1,0.9,
0.2,-0.6,1.0,-0.3,0.5,-1.1,0.7,0.1,-0.8,1.2,-0.4,0.6,-0.2,-1.0,0.8,0.3,-0.7,1.1,-0.5,0.4,
-0.9,0.6,1.3,-0.4,3.4,-1.2,0.5,0.2,-0.8,1.5,-0.3,0.7,-1.4,0.4,1.0,-0.6,0.3,-1.1,0.9,2.8,
-0.4,0.7,-1.1,0.3,-0.5,1.2,-1.4,0.1,-2.0,0.6,-0.8,-0.3,-4.3,0.4,-3.0,0.5,-1.2,0.9,-0.2,1.1,
-0.8,0.4,1.1,-0.5,0.7,-1.2,0.3,1.5,-0.6,0.2,-1.0,1.3,-0.3,0.8,-1.5,0.6,1.0,-0.7,0.4,2.5,
-0.9,0.5,1.6,-0.3,0.8,-1.4,1.1,0.2,-0.7,1.9,-0.5,0.6,-1.2,1.0,0.3,-0.8,1.4,-0.4,0.7,-1.6,
1.2,0.1,-0.6,1.5,-1.1,0.7,0.3,-0.9,1.8,-0.4,0.6,-1.5,1.0,-0.7,-3.7,0.9,-0.3,1.3,-1.2,0.5,
0.8,-0.5,1.4,-1.0,0.2,0.7,-1.3,1.1,-0.2,2.9,-0.8,0.4,-1.6,1.2,0.3,-0.6,1.5,-1.1,0.6,-0.3,
1.0,-1.4,0.5,0.9,-0.7,1.6,-0.4,0.3,-1.2,1.3,-0.6,0.8,-1.7,0.6,1.1,-0.5,0.2,-1.0,1.4,2.5,
-0.6,0.7,-1.3,1.0,0.3,-0.8,1.5,-0.4,0.6,-1.5,1.2,-0.2,0.8,-1.1,1.7,-0.5,0.4,-1.4,0.9,0.2,
-0.9,1.3,-0.4,0.6,-1.6,1.0,-3.7,0.8,-0.3,1.4,-1.2,0.5,0.2,-0.8,1.6,-0.5,0.9,-1.3,0.4,1.1,
-0.7,0.5,1.2,-0.9,3.6,-0.4,0.8,-1.4,0.6,1.3,-0.6,0.3,-1.1,1.0,-0.3,0.7,-1.5,1.4,0.2,-0.8,
0.6,-0.4,1.1,-1.2,0.3,0.8,-0.6,1.5,-1.0,1.8,-0.5,0.4,-1.3,0.9,0.2,-0.7,1.2,-0.3,0.6,-1.1,
0.9,-0.5,1.3,-0.2,0.6,-1.4,1.0,0.3,-3.1,0.7,-0.6,1.5,-0.9,0.4,1.1,-0.3,0.8,2.8,-0.7,1.2,
-0.3,5.6,1.2,6.85,-0.6,3.9,-0.9,1.3,-0.2,0.8,-1.2,1.5,0.1,-0.7,2.0,-0.9,1.0,0.3,-1.1,0.9,
0.2,1.3,-0.9,0.7,-0.3,1.6,-1.1,0.8,0.1,-0.8,1.3,-0.1,-1.3,0.9,0.3,-0.8,1.1,-0.5,0.5,2.5,
-0.4,1.0,0.3,-1.1,1.3,-0.5,0.7,0.1,-0.9,1.2,-0.3,0.6,-1.4,0.8,-2.5,0.4,1.1,-0.7,0.5,-1.2,
0.9,0.2,-0.8,1.4,-0.4,0.6,-1.3,1.0,0.3,-0.6,1.5,-1.1,0.5,-0.3,1.2,-0.9,-3.0,0.7,-0.5,1.1,
-0.6,0.4,1.3,-1.0,0.5,-0.2,0.9,-1.4,0.7,0.2,-0.8,1.2,-0.4,0.6,-1.2,1.0,0.3,-0.7,1.1,-0.3,
0.6,-1.1,0.8,2.5,-0.5,0.3,-1.3,1.0,-0.2,0.7,-0.9,1.4,0.1,-0.6,1.1,-1.2,0.5,0.9,-0.8,-2.3,
0.4,-0.6,1.0,-0.3,0.7,-1.0,0.5,0.2,-0.8,1.2,-0.4,0.6,-1.1,0.9,0.1,-0.5,1.3,-0.7,0.4,0.8,
-0.9,3.7,-0.4,1.1,-1.3,0.6,0.2,-1.0,1.4,-2.6,0.7,-0.5,1.2,-1.5,0.3,0.9,-1.1,0.5,-0.7,2.0,
-0.6,1.0,-1.4,0.4,1.2,-0.9,0.6,-1.7,0.8,-0.3,1.1,-1.2,0.5,1.3,-0.8,0.2,-1.5,0.9,-0.4,-1.2
];

// ---------- layout ----------
const FONT = "'Liberation Sans', Arial, Helvetica, sans-serif";
const panels = [
  { data: series1, yTicks: yTicks1, box: { l: 69,    t: 10,  r: 517,  b: 178 }, titleX: 21 },
  { data: series2, yTicks: yTicks2, box: { l: 588.5, t: 10,  r: 1045, b: 178 }, titleX: 550 },
  { data: series3, yTicks: yTicks3, box: { l: 61,    t: 250, r: 517,  b: 418 }, titleX: 21 },
  { data: series4, yTicks: yTicks4, box: { l: 588.5, t: 250, r: 1045, b: 418 }, titleX: 550 }
];

const svg = d3.select("#chart");
svg.append("rect").attr("width", 1056).attr("height", 480).attr("fill", "#fff");

function expand(ext) { const r = ext[1] - ext[0]; return [ext[0] - 0.05 * r, ext[1] + 0.05 * r]; }
function minors(major, dom) {
  const step = major[1] - major[0], out = [];
  for (let i = -1; i < major.length; i++) {
    const m = major[0] + step * (i + 0.5);
    if (m >= Math.min(dom[0], dom[1]) && m <= Math.max(dom[0], dom[1])) out.push(m);
  }
  return out;
}

panels.forEach(p => {
  const { l, t, r, b } = p.box;
  const tIdx = p.data.map((d, i) => i + 1);
  const x = d3.scaleLinear().domain(expand(d3.extent(tIdx))).range([l, r]);
  const y = d3.scaleLinear().domain(expand(d3.extent(p.data))).range([b, t]);
  const g = svg.append("g");

  g.append("rect").attr("x", l).attr("y", t).attr("width", r - l).attr("height", b - t).attr("fill", "#fff");

  minors(xTicks, x.domain()).forEach(v => g.append("line")
    .attr("x1", x(v)).attr("x2", x(v)).attr("y1", t).attr("y2", b)
    .attr("stroke", "#EBEBEB").attr("stroke-width", 0.8));
  minors(p.yTicks, y.domain()).forEach(v => g.append("line")
    .attr("x1", l).attr("x2", r).attr("y1", y(v)).attr("y2", y(v))
    .attr("stroke", "#EBEBEB").attr("stroke-width", 0.8));
  xTicks.forEach(v => g.append("line")
    .attr("x1", x(v)).attr("x2", x(v)).attr("y1", t).attr("y2", b)
    .attr("stroke", "#EBEBEB").attr("stroke-width", 1.6));
  p.yTicks.forEach(v => g.append("line")
    .attr("x1", l).attr("x2", r).attr("y1", y(v)).attr("y2", y(v))
    .attr("stroke", "#EBEBEB").attr("stroke-width", 1.6));

  const line = d3.line().x((d, i) => x(tIdx[i])).y(d => y(d));
  g.append("path").datum(p.data).attr("d", line)
    .attr("fill", "none").attr("stroke", "#000").attr("stroke-width", 1)
    .attr("stroke-linejoin", "round");

  g.append("rect").attr("x", l).attr("y", t).attr("width", r - l).attr("height", b - t)
    .attr("fill", "none").attr("stroke", "#333333").attr("stroke-width", 1.2);

  const xa = g.append("g").attr("transform", `translate(0,${b})`)
    .call(d3.axisBottom(x).tickValues(xTicks).tickSize(4.5).tickFormat(d => String(d)));
  xa.select(".domain").remove();
  xa.selectAll(".tick line").attr("stroke", "#333333").attr("stroke-width", 1.2);
  xa.selectAll(".tick text").attr("y", 23.7).attr("dy", null)
    .attr("fill", "#4D4D4D").style("font-family", FONT).style("font-size", "14px");

  const ya = g.append("g").attr("transform", `translate(${l},0)`)
    .call(d3.axisLeft(y).tickValues(p.yTicks).tickSize(4.5).tickFormat(d => String(d)));
  ya.select(".domain").remove();
  ya.selectAll(".tick line").attr("stroke", "#333333").attr("stroke-width", 1.2);
  ya.selectAll(".tick text").attr("x", -9.5).attr("dy", "0.36em")
    .attr("fill", "#4D4D4D").style("font-family", FONT).style("font-size", "14px");

  g.append("text").attr("x", (l + r) / 2).attr("y", b + 49)
    .attr("text-anchor", "middle").attr("fill", "#000")
    .style("font-family", FONT).style("font-size", "17.5px").text(xTitle);

  const yt = g.append("text")
    .attr("transform", `translate(${p.titleX},${(t + b) / 2}) rotate(-90)`)
    .attr("text-anchor", "middle").attr("fill", "#000")
    .style("font-family", FONT).style("font-size", "17.5px");
  yt.append("tspan").text(yTitleMain);
  yt.append("tspan").attr("dy", 5.5).style("font-size", "12.5px").text(yTitleSub);
});
</script>
</body></html>
